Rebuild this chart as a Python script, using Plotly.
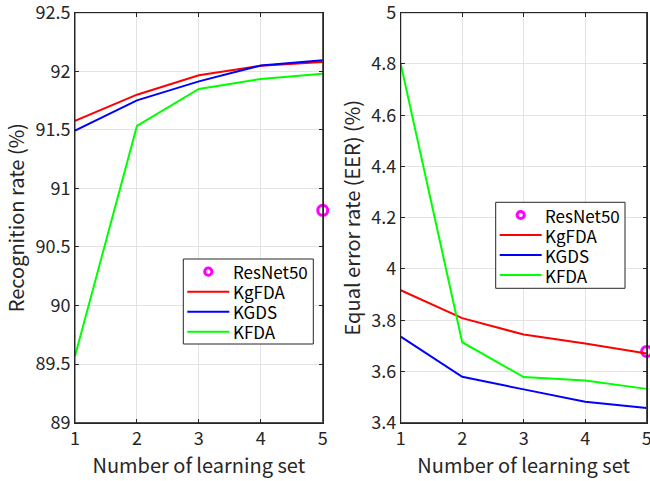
import plotly.graph_objects as go

x_sets = [1, 2, 3, 4, 5]

rec_kgfda = [91.578, 91.80, 91.966, 92.048, 92.079]
rec_kgds = [91.493, 91.752, 91.914, 92.05, 92.094]
rec_kfda = [89.569, 91.533, 91.849, 91.934, 91.979]
rec_resnet_x = [5]
rec_resnet = [90.813]

eer_kgfda = [3.917, 3.808, 3.744, 3.709, 3.670]
eer_kgds = [3.736, 3.579, 3.530, 3.482, 3.457]
eer_kfda = [4.80, 3.714, 3.578, 3.565, 3.532]
eer_resnet_x = [5]
eer_resnet = [3.678]

x_ticks = [1, 2, 3, 4, 5]
x_ticktext = ["1", "2", "3", "4", "5"]
rec_ticks = [89, 89.5, 90, 90.5, 91, 91.5, 92, 92.5]
rec_ticktext = ["89", "89.5", "90", "90.5", "91", "91.5", "92", "92.5"]
eer_ticks = [3.4, 3.6, 3.8, 4.0, 4.2, 4.4, 4.6, 4.8, 5.0]
eer_ticktext = ["3.4", "3.6", "3.8", "4", "4.2", "4.4", "4.6", "4.8", "5"]

legend_names = ["ResNet50", "KgFDA", "KGDS", "KFDA"]

FONT = "Noto Sans CJK JP, Noto Sans, sans-serif"
TXT = "#262626"
RED, BLUE, GREEN, MAG = "#FF0000", "#0000FF", "#00FF00", "#FF00FF"
legend_colors = [MAG, RED, BLUE, GREEN]

W, H = 650, 481

fig = go.Figure()

def add_panel(xa, ya, res_x, res_y, kg, kgds, kf):
    fig.add_trace(go.Scatter(x=res_x, y=res_y, mode="markers", name="ResNet50",
                             marker=dict(symbol="circle-open", size=10, color=MAG,
                                         line=dict(width=3, color=MAG)),
                             xaxis=xa, yaxis=ya, cliponaxis=False, showlegend=False))
    fig.add_trace(go.Scatter(x=x_sets, y=kg, mode="lines", name="KgFDA",
                             line=dict(color=RED, width=2), xaxis=xa, yaxis=ya, showlegend=False))
    fig.add_trace(go.Scatter(x=x_sets, y=kgds, mode="lines", name="KGDS",
                             line=dict(color=BLUE, width=2), xaxis=xa, yaxis=ya, showlegend=False))
    fig.add_trace(go.Scatter(x=x_sets, y=kf, mode="lines", name="KFDA",
                             line=dict(color=GREEN, width=2), xaxis=xa, yaxis=ya, showlegend=False))

add_panel("x", "y", rec_resnet_x, rec_resnet, rec_kgfda, rec_kgds, rec_kfda)
add_panel("x2", "y2", eer_resnet_x, eer_resnet, eer_kgfda, eer_kgds, eer_kfda)

axis_common = dict(showline=True, linecolor=TXT, linewidth=1, mirror="ticks",
                   ticks="inside", ticklen=4, tickcolor=TXT, showgrid=True,
                   gridcolor="#E3E3E3", gridwidth=1, zeroline=False, automargin=False,
                   ticklabeloverflow="allow",
                   tickfont=dict(family=FONT, size=18, color=TXT))
title_font = dict(size=20, family=FONT, color=TXT)

# box around each axes (MATLAB style)
for xr, yr in (("x", "y"), ("x2", "y2")):
    fig.add_shape(type="rect", xref=f"{xr} domain", yref=f"{yr} domain",
                  x0=0, x1=1, y0=0, y1=1, line=dict(color=TXT, width=1), layer="above")

# manual legends (pixel positions of the box)
def px(x):
    return x / W

def py(y):
    return 1 - y / H

def add_legend(left, top, right, bottom):
    fig.add_shape(type="rect", xref="paper", yref="paper",
                  x0=px(left), x1=px(right), y0=py(bottom), y1=py(top),
                  line=dict(color=TXT, width=1), fillcolor="white", layer="above")
    row_step = 20.0
    for i, (name, col) in enumerate(zip(legend_names, legend_colors)):
        yc = top + 12.7 + i * row_step
        if i == 0:
            fig.add_shape(type="circle", xref="paper", yref="paper",
                          xsizemode="pixel", ysizemode="pixel",
                          xanchor=px(left + 25), yanchor=py(yc),
                          x0=-3.6, x1=3.6, y0=-3.6, y1=3.6,
                          line=dict(color=col, width=3), layer="above")
        else:
            fig.add_shape(type="line", xref="paper", yref="paper",
                          x0=px(left + 4), x1=px(left + 46), y0=py(yc), y1=py(yc),
                          line=dict(color=col, width=2), layer="above")
        fig.add_annotation(text=name, xref="paper", yref="paper",
                           x=px(left + 48.5), y=py(yc), xanchor="left", yanchor="middle",
                           showarrow=False, borderpad=0,
                           font=dict(family=FONT, size=17, color="black"))

add_legend(183.3, 259, 313.3, 344)
add_legend(495.7, 202.3, 625, 288.3)

fig.update_layout(
    width=W, height=H,
    margin=dict(l=0, r=0, t=0, b=0, autoexpand=False),
    paper_bgcolor="white", plot_bgcolor="white",
    font=dict(family=FONT, color=TXT),
    showlegend=False,
    xaxis=dict(domain=[0.1154, 0.4965], range=[1, 5], tickvals=x_ticks, ticktext=x_ticktext,
               anchor="y", title=dict(text="Number of learning set", font=title_font, standoff=4),
               **axis_common),
    yaxis=dict(domain=[0.1212, 0.9736], range=[89, 92.5], tickvals=rec_ticks, ticktext=rec_ticktext,
               anchor="x", title=dict(text="Recognition rate (%)", font=title_font, standoff=5),
               **axis_common),
    xaxis2=dict(domain=[0.6165, 0.9949], range=[1, 5], tickvals=x_ticks, ticktext=x_ticktext,
                anchor="y2", title=dict(text="Number of learning set", font=title_font, standoff=4),
                **axis_common),
    yaxis2=dict(domain=[0.1212, 0.9736], range=[3.4, 5], tickvals=eer_ticks, ticktext=eer_ticktext,
                anchor="x2", title=dict(text="Equal error rate (EER) (%)", font=title_font, standoff=5),
                **axis_common),
)

fig.write_html("out.html",
               config={"displayModeBar": False},
               post_script="document.body.style.margin='0';document.body.style.padding='0';"
                           "document.documentElement.style.overflow='hidden';")
